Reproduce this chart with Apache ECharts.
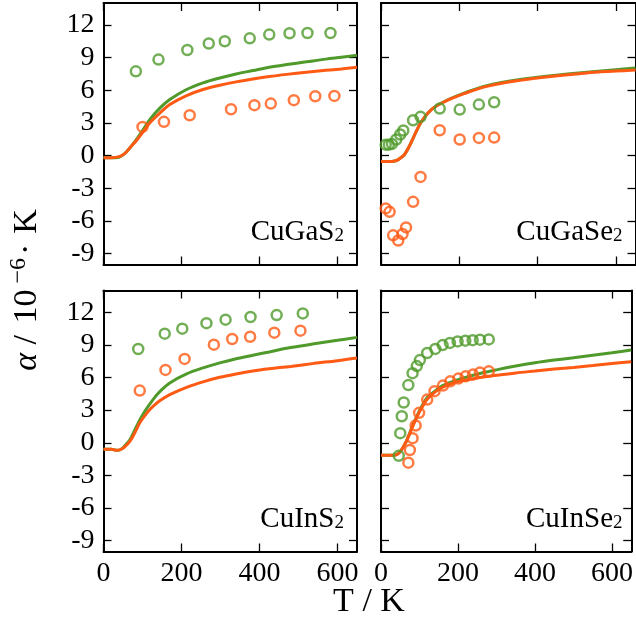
<!DOCTYPE html>
<html><head><meta charset="utf-8">
<script src="https://cdn.jsdelivr.net/npm/echarts@6/dist/echarts.min.js"></script>
<style>html,body{margin:0;padding:0;background:#fff}#c{width:636px;height:620px}</style>
</head><body><div id="c"></div>
<script>
// ---------- tick labels ----------
const yTicks = [-9, -6, -3, 0, 3, 6, 9, 12];
const xTicks = [0, 200, 400, 600];
const panelNames = ['CuGaS', 'CuGaSe', 'CuInS', 'CuInSe'];

// ---------- CuGaS2 ----------
const cgsModelT = [0, 20, 40, 55, 70, 85, 100, 120, 145, 170, 213, 255, 298, 340, 383, 425, 470, 520, 570, 610, 650];
const cgsModelGreen = [-0.2, -0.2, -0.15, 0.2, 0.8, 1.5, 2.3, 3.35, 4.37, 5.14, 6.06, 6.67, 7.12, 7.49, 7.8, 8.1, 8.35, 8.6, 8.85, 9.02, 9.2];
const cgsModelOrange = [-0.2, -0.2, -0.1, 0.2, 0.8, 1.4, 2.1, 3.05, 3.91, 4.68, 5.5, 6.06, 6.45, 6.76, 7.03, 7.25, 7.45, 7.65, 7.82, 7.95, 8.1];
const cgsExpGreenT = [83, 141, 215, 270, 311, 375, 425, 477, 523, 582];
const cgsExpGreen = [7.73, 8.81, 9.69, 10.28, 10.49, 10.76, 11.10, 11.22, 11.25, 11.25];
const cgsExpOrangeT = [100, 155, 221, 327, 387, 429, 488, 543, 592];
const cgsExpOrange = [2.63, 3.09, 3.70, 4.25, 4.62, 4.77, 5.08, 5.44, 5.47];

// ---------- CuGaSe2 ----------
const cgseModelT = [0, 20, 35, 45, 56, 62, 73, 86, 103, 128, 163, 214, 270, 355, 440, 525, 600, 650];
const cgseModelGreen = [-0.55, -0.55, -0.5, -0.35, -0.06, 0.2, 0.9, 1.9, 3.1, 4.2, 4.98, 5.75, 6.42, 6.97, 7.34, 7.64, 7.88, 8.04];
const cgseModelOrange = [-0.55, -0.55, -0.5, -0.35, -0.06, 0.2, 0.9, 1.9, 3.1, 4.2, 4.95, 5.7, 6.35, 6.9, 7.28, 7.58, 7.75, 7.85];
const cgseExpGreenT = [12, 20, 28, 39, 49, 57, 82, 101, 150, 201, 250, 289];
const cgseExpGreen = [1.0, 1.0, 1.07, 1.47, 1.93, 2.3, 3.24, 3.55, 4.31, 4.22, 4.68, 4.89];
const cgseExpOrangeT = [12, 22, 31, 44, 55, 64, 82, 101, 150, 201, 250, 289];
const cgseExpOrange = [-4.85, -5.17, -7.32, -7.8, -7.2, -6.6, -4.25, -1.96, 2.32, 1.47, 1.62, 1.65];

// ---------- CuInS2 ----------
const cisModelT = [0, 20, 35, 45, 55, 68, 80, 93, 106, 119, 132, 145, 170, 213, 255, 298, 340, 383, 425, 480, 540, 600, 650];
const cisModelGreen = [-0.6, -0.6, -0.7, -0.6, -0.25, 0.3, 1.15, 2.1, 2.9, 3.58, 4.2, 4.73, 5.5, 6.33, 6.88, 7.34, 7.73, 8.05, 8.35, 8.75, 9.1, 9.42, 9.69];
const cisModelOrange = [-0.6, -0.6, -0.7, -0.6, -0.35, 0.15, 0.9, 1.83, 2.5, 3.06, 3.5, 3.88, 4.43, 5.1, 5.6, 6.02, 6.33, 6.6, 6.8, 7.02, 7.3, 7.55, 7.8];
const cisExpGreenT = [89, 157, 202, 264, 313, 377, 444, 511];
const cisExpGreen = [8.62, 10.03, 10.49, 11.0, 11.32, 11.56, 11.74, 11.89];
const cisExpOrangeT = [93, 159, 208, 283, 330, 376, 438, 505];
const cisExpOrange = [4.80, 6.70, 7.71, 9.02, 9.54, 9.75, 10.12, 10.31];

// ---------- CuInSe2 ----------
const ciseModelT = [0, 20, 40, 48, 56, 64, 72, 80, 90, 100, 110, 120, 140, 160, 180, 200, 250, 300, 350, 400, 450, 500, 550, 600, 650];
const ciseModelGreen = [-1.15, -1.15, -1.1, -0.9, -0.5, 0.0, 0.65, 1.4, 2.2, 2.95, 3.6, 4.15, 4.75, 5.25, 5.55, 5.8, 6.3, 6.7, 7.05, 7.35, 7.6, 7.82, 8.05, 8.28, 8.52];
const ciseModelOrange = [-1.15, -1.15, -1.1, -0.9, -0.5, 0.0, 0.6, 1.3, 2.1, 2.85, 3.45, 4.0, 4.65, 5.1, 5.4, 5.62, 5.96, 6.2, 6.42, 6.6, 6.78, 6.93, 7.1, 7.28, 7.45];
const ciseExpGreenT = [46, 50, 54, 59, 71, 82, 93, 101, 120, 141, 160, 179, 199, 219, 238, 257, 280];
const ciseExpGreen = [-1.2, 0.88, 2.44, 3.7, 5.3, 6.4, 7.05, 7.6, 8.25, 8.63, 8.98, 9.18, 9.32, 9.39, 9.43, 9.48, 9.5];
const ciseExpOrangeT = [71, 75, 82, 90, 99, 120, 139, 161, 180, 201, 220, 239, 257, 280];
const ciseExpOrange = [-1.83, -0.67, 0.42, 1.59, 2.75, 3.97, 4.74, 5.26, 5.65, 5.9, 6.11, 6.27, 6.45, 6.57];

// ---------- styling ----------
const GREEN = '#4f9a2b', ORANGE = '#ff5a14';
const FONT = '"Liberation Serif", "DejaVu Serif", serif';
const FS = 28;      // tick labels
const FS_AX = 34;   // axis titles

const zip = (xs, ys) => xs.map((x, i) => [x, ys[i]]);

const panels = [
  {mT: cgsModelT, mG: cgsModelGreen, mO: cgsModelOrange, gT: cgsExpGreenT, g: cgsExpGreen, oT: cgsExpOrangeT, o: cgsExpOrange},
  {mT: cgseModelT, mG: cgseModelGreen, mO: cgseModelOrange, gT: cgseExpGreenT, g: cgseExpGreen, oT: cgseExpOrangeT, o: cgseExpOrange},
  {mT: cisModelT, mG: cisModelGreen, mO: cisModelOrange, gT: cisExpGreenT, g: cisExpGreen, oT: cisExpOrangeT, o: cisExpOrange},
  {mT: ciseModelT, mG: ciseModelGreen, mO: ciseModelOrange, gT: ciseExpGreenT, g: ciseExpGreen, oT: ciseExpOrangeT, o: ciseExpOrange}
];

const grids = [
  {left: 103.5, top: 3, width: 253.5, height: 261.5},
  {left: 381, top: 3, width: 254.5, height: 261.5},
  {left: 103.5, top: 290.5, width: 253.5, height: 261},
  {left: 381, top: 290.5, width: 254.5, height: 261}
];

const axisLine = {show: true, onZero: false, lineStyle: {color: '#000', width: 2}};
const tickStyle = (vals) => ({show: true, inside: true, length: 8, customValues: vals, lineStyle: {color: '#000', width: 1.3}});

const xAxes = [], yAxes = [], series = [];
grids.forEach((g, i) => {
  const showX = i >= 2, showY = i % 2 === 0;
  xAxes.push({type: 'value', gridIndex: i, position: 'bottom', min: 0, max: 650,
    axisLine, axisTick: tickStyle(xTicks), splitLine: {show: false},
    axisLabel: {show: showX, customValues: xTicks, margin: 8, color: '#000', fontFamily: FONT, fontSize: FS}});
  xAxes.push({type: 'value', gridIndex: i, position: 'top', min: 0, max: 650,
    axisLine, axisTick: tickStyle(xTicks), splitLine: {show: false}, axisLabel: {show: false}});
  yAxes.push({type: 'value', gridIndex: i, position: 'left', min: -10, max: 14,
    axisLine, axisTick: tickStyle(yTicks), splitLine: {show: false},
    axisLabel: {show: showY, customValues: yTicks, margin: 9, color: '#000', fontFamily: FONT, fontSize: FS}});
  yAxes.push({type: 'value', gridIndex: i, position: 'right', min: -10, max: 14,
    axisLine, axisTick: tickStyle(yTicks), splitLine: {show: false}, axisLabel: {show: false}});
  const p = panels[i];
  const base = {xAxisIndex: 2 * i, yAxisIndex: 2 * i, silent: true};
  series.push(Object.assign({type: 'line', data: zip(p.mT, p.mG), showSymbol: false, smooth: 0.35,
    lineStyle: {color: GREEN, width: 3}, z: 3}, base));
  series.push(Object.assign({type: 'line', data: zip(p.mT, p.mO), showSymbol: false, smooth: 0.35,
    lineStyle: {color: ORANGE, width: 3}, z: 4}, base));
  series.push(Object.assign({type: 'scatter', data: zip(p.gT, p.g), symbol: 'circle', symbolSize: 10,
    itemStyle: {color: 'rgba(255,255,255,0)', borderColor: GREEN, borderWidth: 2.5}, z: 5}, base));
  series.push(Object.assign({type: 'scatter', data: zip(p.oT, p.o), symbol: 'circle', symbolSize: 10,
    itemStyle: {color: 'rgba(255,255,255,0)', borderColor: ORANGE, borderWidth: 2.5}, z: 6}, base));
});

const labelPos = [[344, 232], [622.5, 232], [344, 519], [622.5, 519]];
const richPanel = {
  m: {fontFamily: FONT, fontSize: 29, color: '#000', lineHeight: 28},
  s: {fontFamily: FONT, fontSize: 19, color: '#000', lineHeight: 19, padding: [14, 0, 0, 0], verticalAlign: 'bottom'}
};
const graphics = panelNames.map((n, i) => ({
  type: 'text', x: labelPos[i][0], y: labelPos[i][1], silent: true,
  style: {text: '{m|' + n + '}{s|2}', rich: richPanel, align: 'right', verticalAlign: 'middle'}
}));
graphics.push({type: 'text', x: 369, y: 602, silent: true,
  style: {text: 'T / K', fontFamily: FONT, fontSize: FS_AX, fill: '#000', align: 'center', verticalAlign: 'middle'}});
const mainTok = {fontFamily: FONT, fontSize: FS_AX, color: '#000', lineHeight: 40};
graphics.push({type: 'text', x: 27, y: 290, rotation: Math.PI / 2, silent: true,
  style: {text: '{a|α}{b| / }{c|10}{p|−6}{d|·}{k|K}', align: 'center', verticalAlign: 'middle',
    rich: {
      a: Object.assign({}, mainTok, {fontStyle: 'italic'}),
      b: Object.assign({}, mainTok),
      c: Object.assign({}, mainTok, {padding: [0, 0, 0, 3]}),
      p: {fontFamily: FONT, fontSize: 24, color: '#000', lineHeight: 24, verticalAlign: 'top', padding: [0, 0, 0, 6]},
      d: Object.assign({}, mainTok, {padding: [0, 10, 0, 3]}),
      k: Object.assign({}, mainTok)
    }}});

const chart = echarts.init(document.getElementById('c'), null, {renderer: 'canvas'});
chart.setOption({
  animation: false,
  backgroundColor: '#fff',
  grid: grids,
  xAxis: xAxes,
  yAxis: yAxes,
  series,
  graphic: graphics
});
</script>
</body></html>
